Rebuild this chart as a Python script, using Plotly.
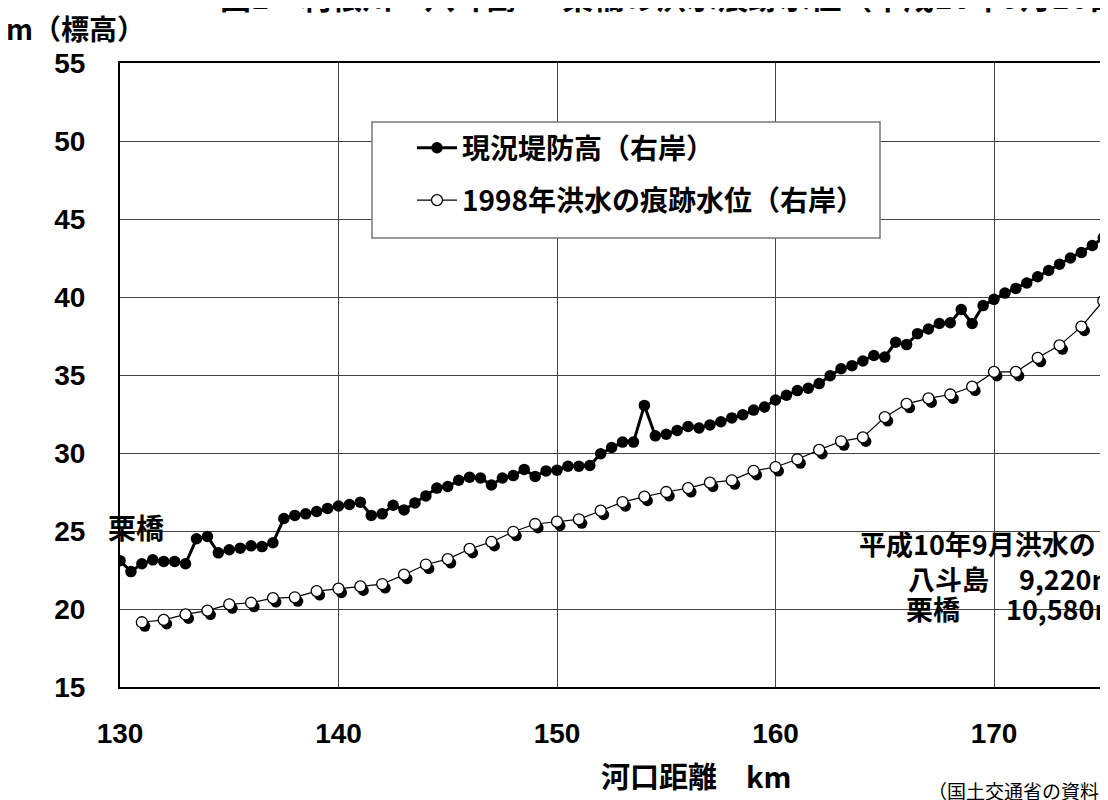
import plotly.graph_objects as go

# ---- data ----
dike_km = [130 + 0.5 * i for i in range(92)]
dike_height = [
    23.1, 22.4, 22.9, 23.15, 23.05, 23.05, 22.9, 24.5, 24.65, 23.6,
    23.8, 23.9, 24.05, 24.0, 24.25, 25.8, 26.0, 26.1, 26.25, 26.45,
    26.6, 26.7, 26.85, 26.0, 26.1, 26.65, 26.35, 26.8, 27.25, 27.75,
    27.85, 28.25, 28.45, 28.4, 27.95, 28.4, 28.55, 28.95, 28.5, 28.85,
    28.9, 29.15, 29.15, 29.2, 29.95, 30.35, 30.7, 30.7, 33.05, 31.1,
    31.2, 31.45, 31.7, 31.6, 31.8, 32.0, 32.25, 32.45, 32.75, 32.95,
    33.4, 33.7, 34.0, 34.15, 34.45, 34.95, 35.4, 35.6, 35.9, 36.25,
    36.15, 37.1, 36.95, 37.65, 37.95, 38.3, 38.35, 39.2, 38.3, 39.45,
    39.85, 40.25, 40.55, 40.9, 41.3, 41.7, 42.1, 42.5, 42.85, 43.3,
    43.8, 44.2,
]
flood_km = [131 + i for i in range(46)]
flood_level = [
    19.15, 19.3, 19.65, 19.9, 20.3, 20.4, 20.7, 20.75, 21.15, 21.3,
    21.45, 21.6, 22.2, 22.85, 23.2, 23.85, 24.3, 24.95, 25.45, 25.6,
    25.75, 26.3, 26.85, 27.2, 27.5, 27.75, 28.1, 28.25, 28.85, 29.1,
    29.6, 30.2, 30.75, 31.0, 32.3, 33.15, 33.5, 33.75, 34.25, 35.2,
    35.2, 36.1, 36.9, 38.1, 39.75, 41.6,
]
name_dike = "現況堤防高（右岸）"
name_flood = "1998年洪水の痕跡水位（右岸）"
x_ticks = [130, 140, 150, 160, 170, 180]
y_ticks = [15, 20, 25, 30, 35, 40, 45, 50, 55]

# ---- style / layout (page has an 8px body margin) ----
OFF = 8
W, H = 1100, 792
ML, MR, MT, MB = 112, 0, 55, 113
PW, PH = W - ML - MR, H - MT - MB
X0, X1 = 130, 130 + PW / 21.85
Y0, Y1 = 15, 55
JP = "Noto Sans CJK JP"
NUM = "Liberation Sans"

def px(xp):
    return (xp - OFF - ML) / PW

def py(yp):
    return (H - MB - (yp - OFF)) / PH

# shadow offset (a few pixels right / down), converted via axis scale
sdx = 3.0 * (X1 - X0) / PW
sdy = -4.0 * (Y1 - Y0) / PH

fig = go.Figure()
fig.add_trace(go.Scatter(
    x=[k + sdx for k in flood_km], y=[v + sdy for v in flood_level],
    mode="markers", showlegend=False, hoverinfo="skip",
    marker=dict(size=11, color="black"),
))
fig.add_trace(go.Scatter(
    x=flood_km, y=flood_level, name=name_flood, mode="lines+markers",
    legendrank=2, legendgroup="b",
    line=dict(color="black", width=1.2),
    marker=dict(size=11, color="white", line=dict(color="black", width=1.3)),
))
fig.add_trace(go.Scatter(
    x=dike_km, y=dike_height, name=name_dike, mode="lines+markers",
    legendrank=1, legendgroup="a",
    line=dict(color="black", width=3),
    marker=dict(size=11.5, color="black"),
))

ann = []
def add(text, x, y, size, xanchor="left", yanchor="middle", weight="bold", family=JP):
    ann.append(dict(text=text, x=px(x), y=py(y), xref="paper", yref="paper",
                    xanchor=xanchor, yanchor=yanchor, showarrow=False,
                    font=dict(family=family, size=size, color="black", weight=weight)))

add("図1　利根川　八斗島 － 栗橋の洪水痕跡水位（平成10年9月16日）", 218, -4, 31)
add("m（標高）", 4, 28, 28)
add("栗橋", 106, 527, 28)
add("平成10年9月洪水のピーク流量", 857, 543, 27)
add("八斗島", 906, 578, 27)
add("9,220m³/s", 1017, 578, 27)
add("栗橋", 904, 608, 27)
add("10,580m³/s", 1004, 608, 27)
add("河口距離　km", 696, 775, 29, xanchor="center")
add("（国土交通省の資料より）", 926, 790, 19, weight="normal")

shapes = [dict(type="rect", xref="paper", yref="paper",
               x0=px(372), x1=px(880), y0=py(238), y1=py(122),
               fillcolor="white", line=dict(color="#777", width=1.5), layer="above")]

fig.update_layout(
    width=W, height=H,
    margin=dict(l=ML, r=MR, t=MT, b=MB, pad=0),
    paper_bgcolor="white", plot_bgcolor="white",
    showlegend=True,
    legend=dict(
        x=px(372), y=py(123), xanchor="left", yanchor="top",
        bgcolor="rgba(0,0,0,0)", borderwidth=0,
        font=dict(family=JP, size=28, color="black", weight="bold"),
        tracegroupgap=13, indentation=40, itemwidth=40,
    ),
    annotations=ann,
    shapes=shapes,
    xaxis=dict(
        range=[X0, X1], tickvals=x_ticks, showgrid=True, gridcolor="#444", gridwidth=1,
        showline=True, linecolor="black", linewidth=1.5, mirror=True,
        ticks="", ticklabelstandoff=21, zeroline=False,
        tickfont=dict(family=NUM, size=28, color="black", weight="bold"),
    ),
    yaxis=dict(
        range=[Y0, Y1], tickvals=y_ticks, showgrid=True, gridcolor="#444", gridwidth=1,
        showline=True, linecolor="black", linewidth=2, mirror=False,
        ticks="", ticklabelstandoff=27, zeroline=False,
        tickfont=dict(family=NUM, size=28, color="black", weight="bold"),
    ),
)

fig.write_html("out.html")
